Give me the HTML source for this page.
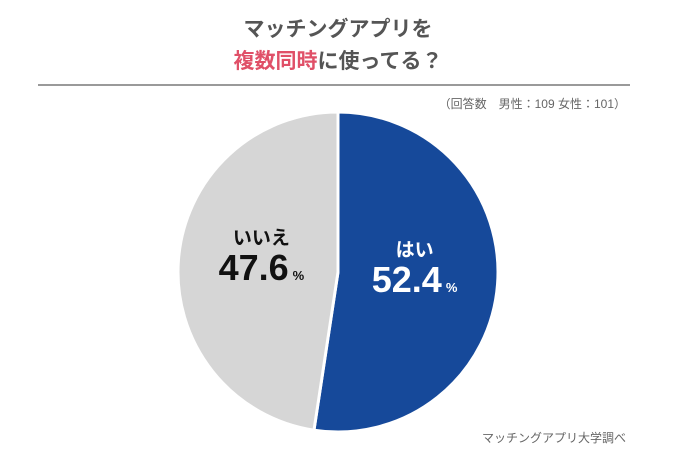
<!DOCTYPE html>
<html><head><meta charset="utf-8"><style>
body{margin:0;background:#fff;}
svg text{font-family:"Liberation Sans","Noto Sans CJK JP",sans-serif;}
</style></head><body>
<svg width="681" height="459" viewBox="0 0 681 459">
<text x="338" y="36" text-anchor="middle" font-size="21" font-weight="bold" fill="#555">マッチングアプリを</text>
<text x="338" y="68" text-anchor="middle" font-size="21" font-weight="bold" fill="#555"><tspan fill="#e05068">複数同時</tspan>に使ってる？</text>
<line x1="38" y1="85" x2="630" y2="85" stroke="#9a9a9a" stroke-width="2"/>
<text x="626" y="108" text-anchor="end" font-size="12" fill="#666">（回答数　男性：109 女性：101）</text>
<g id="slices"></g>
<text x="626" y="442" text-anchor="end" font-size="12" fill="#666">マッチングアプリ大学調べ</text>
</svg>
<script>
const categories=["はい","いいえ"];
const values=[52.4,47.6];
const labelTexts=["52.4","47.6"];
const colors=["#16499a","#d6d6d6"];
const textColors=["#fff","#111"];
const cx=338,cy=272,r=160;
const ns="http://www.w3.org/2000/svg";
const g=document.getElementById("slices");
const total=values.reduce((a,b)=>a+b,0);
function pt(a,rr){return [cx+rr*Math.sin(a),cy-rr*Math.cos(a)];}
let start=0;
values.forEach((v,i)=>{
  const ang=v/total*2*Math.PI,end=start+ang;
  const [x1,y1]=pt(start,r),[x2,y2]=pt(end,r);
  const p=document.createElementNS(ns,"path");
  p.setAttribute("d",`M${cx},${cy}L${x1},${y1}A${r},${r} 0 ${ang>Math.PI?1:0} 1 ${x2},${y2}Z`);
  p.setAttribute("fill",colors[i]);p.setAttribute("stroke","#fff");p.setAttribute("stroke-width","3");
  
  
  g.appendChild(p);
  const mid=start+ang/2;const [lx,ly]=pt(mid,r*0.48);
  const t1=document.createElementNS(ns,"text");
  t1.setAttribute("x",lx);t1.setAttribute("y",ly-22);t1.setAttribute("text-anchor","middle");
  t1.setAttribute("font-size","19");t1.setAttribute("font-weight","bold");t1.setAttribute("fill",textColors[i]);
  t1.textContent=categories[i];
  
  
  g.appendChild(t1);
  const t2=document.createElementNS(ns,"text");
  t2.setAttribute("x",lx);t2.setAttribute("y",ly+14);t2.setAttribute("text-anchor","middle");
  t2.setAttribute("font-weight","bold");t2.setAttribute("fill",textColors[i]);
  t2.innerHTML=`<tspan font-size="36">${labelTexts[i]}</tspan><tspan font-size="13" dx="4">%</tspan>`;
  
  
  g.appendChild(t2);
  start=end;
});
</script>
</body></html>
